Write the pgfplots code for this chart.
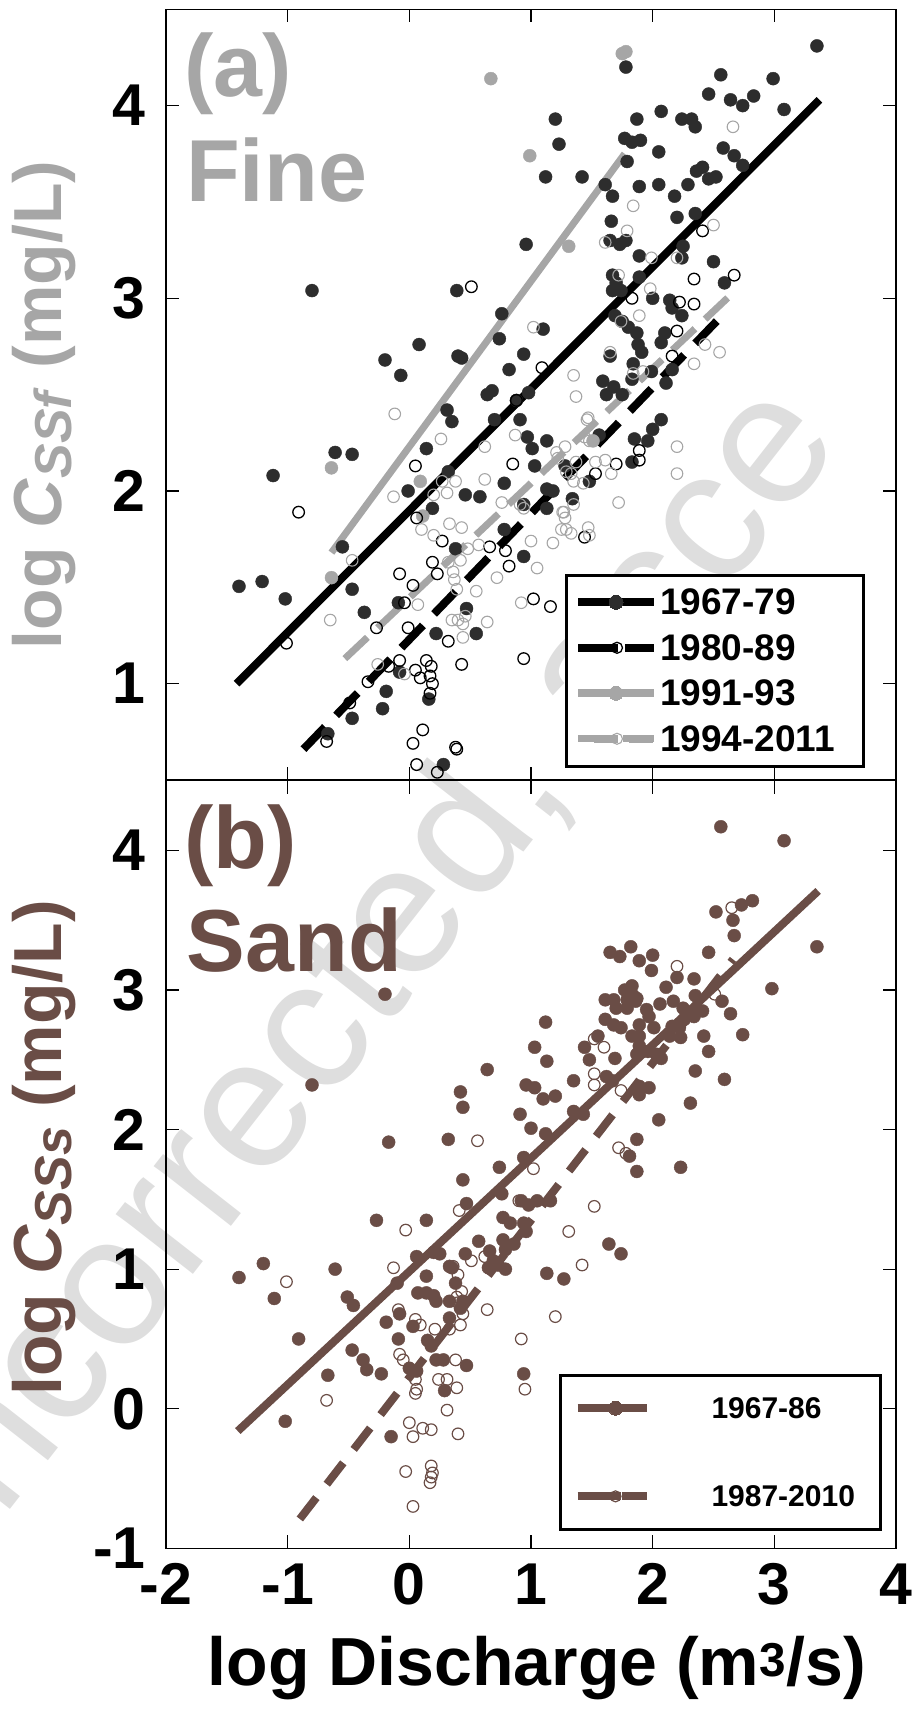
\documentclass[border=0pt]{standalone}
\usepackage{fontspec}
\setmainfont{Liberation Sans}
\usepackage{pgfplots}
\pgfplotsset{compat=1.18}
\definecolor{dk}{RGB}{45,45,45}
\definecolor{gr}{RGB}{166,166,166}
\definecolor{br}{RGB}{106,77,70}
\definecolor{wm}{RGB}{222,222,222}
\newcommand\fs[1]{\fontsize{#1}{#1}\selectfont}
\newcommand\lt[3]{\makebox[#1][l]{\rule{0pt}{#2}#3}}
\newcommand\sub[1]{\raisebox{-10pt}{\fs{52}\textit{#1}}}
\pgfplotsset{
  base/.style={scale only axis, width=730pt, xmin=-2, xmax=4,
    axis line style={line width=1.2pt}, tick style={line width=1.2pt, black},
    major tick length=13pt, tick align=inside,
    xtick={-2,...,4},
    ticklabel style={font=\fs{59}\bfseries, inner sep=0pt},
    yticklabel style={anchor=east, xshift=-20pt},
    xticklabel style={anchor=north, yshift=-15pt},
    legend cell align=left},
  fill dk/.style={only marks, mark=*, mark size=6.5pt, color=dk, forget plot},
  fill gr/.style={only marks, mark=*, mark size=6.5pt, color=gr, forget plot},
  hol bk/.style={only marks, mark=o, mark size=5.8pt, mark options={line width=1.3pt}, color=black, forget plot},
  hol gr/.style={only marks, mark=o, mark size=5.8pt, mark options={line width=1.1pt}, color=gr, forget plot},
  fill br/.style={only marks, mark=*, mark size=6.5pt, color=br, forget plot},
  hol br/.style={only marks, mark=o, mark size=5.8pt, mark options={line width=1.2pt}, color=br, forget plot},
}
\begin{document}
\begin{tikzpicture}
\useasboundingbox (0pt,0pt) rectangle (914pt,1711pt);
\node[overlay, rotate=52, anchor=base west, text=wm, inner sep=0pt, font=\fs{185}] at (-80pt,86pt) {Uncorrected, acce};

% ---------------- panel (a) ----------------
\begin{axis}[base, at={(166pt,931pt)}, anchor=south west, height=770.7pt,
  ymin=0.5, ymax=4.5, ytick={1,2,3,4}, yticklabels={1,2,3,4}, xticklabels={},
  ylabel={log \textit{C}\sub{SSf} (mg/L)},
  ylabel style={at={(axis description cs:-0.1425,0.4866)}, anchor=base, font=\fs{68}\bfseries, text=gr, inner sep=0pt},
  legend style={at={(0.5459,0.2679)}, anchor=north west, draw=black, line width=3pt, fill=white,
    inner xsep=8pt, inner ysep=13.25pt, row sep=17.5pt, font=\fs{37}\bfseries, nodes={inner sep=0pt},
    /tikz/every odd column/.append style={column sep=2pt}},
]
\addplot[black, line width=8pt, line cap=butt,
  legend image code/.code={\draw[solid, black, line width=8pt] (0pt,0pt) -- (76pt,0pt);
    \draw[solid, line width=0pt, mark=*, mark size=7pt, mark options={fill=dk, draw=dk}] plot coordinates {(38pt,0pt)};}]
  coordinates {(-1.42,1.00) (3.37,4.03)};
\addlegendentry{\lt{195pt}{26.5pt}{1967-79}}
\addplot[black, line width=8pt, line cap=butt, dash pattern=on 31pt off 16pt,
  legend image code/.code={\draw[solid, black, line width=8pt] (16pt,0pt) -- (40pt,0pt);
    \draw[solid, black, line width=8pt] (51pt,0pt) -- (75pt,0pt); \path (0pt,0pt) -- (76pt,0pt);
    \draw[solid, line width=0pt, mark=o, mark size=5.5pt, mark options={fill=white, draw=black, line width=1.3pt}] plot coordinates {(39pt,0pt)};}]
  coordinates {(-0.87,0.66) (2.57,2.91)};
\addlegendentry{\lt{195pt}{26.5pt}{1980-89}}
\addplot[gr, line width=7pt, line cap=butt,
  legend image code/.code={\draw[solid, gr, line width=8pt] (0pt,0pt) -- (76pt,0pt);
    \draw[solid, line width=0pt, mark=*, mark size=7pt, mark options={fill=gr, draw=gr}] plot coordinates {(38pt,0pt)};}]
  coordinates {(-0.64,1.68) (1.77,3.75)};
\addlegendentry{\lt{195pt}{26.5pt}{1991-93}}
\addplot[gr, line width=7pt, line cap=butt, dash pattern=on 31pt off 14pt,
  legend image code/.code={\draw[solid, gr, line width=8pt] (16pt,0pt) -- (40pt,0pt);
    \draw[solid, gr, line width=8pt] (51pt,0pt) -- (75pt,0pt); \path (0pt,0pt) -- (76pt,0pt);
    \draw[solid, line width=0pt, mark=o, mark size=5.5pt, mark options={fill=white, draw=gr, line width=1.1pt}] plot coordinates {(39pt,0pt)};}]
  coordinates {(-0.53,1.13) (2.68,3.04)};
\addlegendentry{\lt{195pt}{26.5pt}{1994-2011}}

% 1967-79 filled dark
\addplot[fill dk] coordinates {
(-1.40,1.505) (-1.21,1.53) (-1.02,1.44) (-1.12,2.08) (-0.80,3.04) (-0.61,2.20) (-0.47,2.19) (-0.55,1.71)
(-0.47,1.49) (-0.37,1.37) (-0.09,1.42) (-0.08,1.06) (-0.19,0.96) (-0.22,0.87) (-0.47,0.82) (-0.67,0.74)
(0.16,0.92) (0.28,0.58) (0.14,2.22) (0.31,2.42) (0.35,2.36) (0.64,2.50) (0.68,2.52) (0.70,2.37)
(0.88,2.47) (0.91,2.37) (0.98,2.51) (-0.01,2.00) (0.19,1.91) (0.46,1.98) (0.58,1.97) (0.78,2.04)
(0.97,2.28) (1.01,2.22) (1.13,2.26) (1.03,2.13) (0.78,1.80) (0.94,1.66) (0.38,1.70) (0.22,1.26)
(0.47,1.39) (0.55,1.26) (0.94,1.93) (1.13,2.01) (1.13,1.91) (1.18,2.00) (1.28,2.13) (1.34,1.96)
(1.48,2.05) (1.56,2.29) (0.32,2.10)
(0.76,2.92) (1.10,2.84) (0.74,2.79) (0.08,2.76) (-0.20,2.68) (-0.07,2.60) (0.40,2.70) (0.43,2.69)
(0.94,2.71) (0.82,2.63) (1.69,2.91) (1.80,2.85) (1.87,2.82) (1.65,2.70) (1.84,2.66) (1.59,2.57)
(1.68,2.54) (1.75,2.50) (1.62,2.50)
(3.35,4.31) (2.99,4.14) (2.56,4.16) (2.46,4.06) (2.64,4.03) (2.74,4.00) (2.83,4.05) (3.08,3.98)
(1.78,4.20) (1.87,3.93) (2.07,3.97) (2.24,3.93) (2.32,3.93) (2.35,3.89) (1.20,3.93) (1.23,3.80)
(1.77,3.83) (1.83,3.81) (1.90,3.82) (2.05,3.76) (1.79,3.71) (2.58,3.78) (2.67,3.74) (2.74,3.69)
(1.12,3.63) (1.42,3.63) (1.61,3.59) (1.67,3.53) (1.89,3.58) (2.05,3.59) (2.18,3.53) (2.29,3.59)
(2.36,3.66) (2.41,3.68) (2.46,3.62) (2.52,3.63) (1.66,3.40) (1.73,3.28) (1.78,3.30) (1.65,3.30)
(1.89,3.22) (2.20,3.42) (2.35,3.44) (2.25,3.27) (2.24,3.21) (2.50,3.19) (2.59,3.08) (0.96,3.28)
(0.39,3.04) (1.67,3.12) (1.70,3.08) (1.67,3.04) (1.74,3.04) (1.89,3.11) (2.00,3.00) (2.14,2.99)
(2.16,2.95) (2.24,2.91) (1.75,2.88) (1.88,2.76) (1.91,2.72) (2.10,2.82) (2.07,2.77) (1.83,2.58)
(1.99,2.62) (2.16,2.63) (2.11,2.56) (2.07,2.37) (2.00,2.32) (1.96,2.26) (1.85,2.27) (1.83,2.15)
};
% 1991-93 filled gray
\addplot[fill gr] coordinates {
(1.75,4.27) (1.78,4.28) (0.67,4.14) (0.99,3.74) (1.31,3.27) (-0.64,2.12) (-0.64,1.55) (0.09,2.05)
(0.11,1.87) (1.51,2.26)
};
% 1980-89 hollow black
\addplot[hol bk] coordinates {
(0.51,3.06) (2.41,3.35) (2.34,3.10) (2.67,3.12) (2.22,2.98) (2.34,2.97) (2.20,2.83) (1.83,3.00)
(2.16,2.70) (1.09,2.64) (0.88,2.47) (-0.91,1.89) (0.05,2.13) (0.85,2.14) (0.06,1.86) (0.27,1.74)
(0.19,1.63) (0.23,1.57) (-0.08,1.57) (0.03,1.51) (-0.04,1.42) (-0.27,1.29) (-0.01,1.29) (0.32,1.22)
(0.66,1.71) (0.79,1.69) (0.82,1.61) (1.02,1.44) (1.16,1.40) (0.94,1.13) (0.43,1.10) (-0.08,1.12)
(-0.17,1.09) (-0.34,1.01) (-0.49,0.90) (-0.68,0.70) (0.05,1.07) (0.09,1.03) (0.14,1.12) (0.18,1.09)
(0.17,1.04) (0.19,1.00) (0.17,0.95) (0.11,0.76) (0.03,0.69) (0.38,0.67) (0.39,0.66) (0.06,0.58)
(0.23,0.54) (-1.01,1.21) (1.44,1.76) (1.53,2.09) (1.70,2.14) (1.89,2.21) (1.89,2.16)
};
% 1994-2011 hollow gray
\addplot[hol gr] coordinates {
(2.66,3.89) (1.84,3.48) (1.79,3.35) (1.61,3.29) (2.50,3.38) (1.99,3.21) (2.20,3.21) (1.72,3.12)
(1.98,3.05) (1.89,2.91) (1.74,2.88) (1.02,2.85) (1.65,2.72) (2.43,2.76) (2.55,2.72) (2.34,2.66)
(1.92,2.62) (1.84,2.61) (1.35,2.60) (1.37,2.49) (1.47,2.38) (-0.12,2.40) (0.26,2.27) (0.62,2.23)
(0.87,2.29) (1.37,2.15) (1.33,2.09) (1.35,2.05) (1.21,2.20) (1.28,2.23) (1.44,2.28) (1.61,2.16)
(1.66,2.09) (0.62,2.06) (-0.13,1.97) (0.27,2.05) (0.38,2.05) (0.31,1.99) (0.20,1.98) (0.76,1.94)
(0.91,1.93) (0.94,1.91) (1.27,1.89) (1.28,1.86) (1.29,1.80) (1.25,1.80) (1.33,1.78) (1.47,1.81)
(1.48,1.77) (1.72,1.94) (0.10,1.80) (0.20,1.77) (0.33,1.83) (0.43,1.81) (0.48,1.70) (0.57,1.72)
(1.00,1.74) (1.18,1.73) (1.53,2.15) (-0.47,1.64) (-0.65,1.33) (1.05,1.60) (0.72,1.55) (0.55,1.48)
(0.64,1.32) (0.92,1.42) (0.32,1.63) (0.42,1.64) (0.36,1.58) (0.37,1.54) (0.39,1.49) (0.35,1.33)
(0.40,1.33) (0.44,1.31) (0.46,1.35) (0.44,1.24) (0.07,1.41) (-0.26,1.10) (-0.04,1.05) (1.22,2.17)
(1.29,2.10) (1.43,2.04) (1.26,1.89) (1.35,1.93) (1.46,2.37) (1.48,2.26) (2.20,2.23) (2.20,2.09)
};
\end{axis}

% ---------------- panel (b) ----------------
\begin{axis}[base, at={(166pt,162.7pt)}, anchor=south west, height=767.6pt,
  ymin=-1, ymax=4.5, ytick={-1,0,1,2,3,4}, yticklabels={-1,0,1,2,3,4},
  xticklabels={-2,-1,0,1,2,3,4},
  xlabel={log Discharge (m\textsuperscript{3}/s)},
  xlabel style={at={(axis description cs:0.508,-0.1785)}, anchor=base, font=\fs{68}\bfseries, inner sep=0pt},
  ylabel={log \textit{C}\sub{SSs} (mg/L)},
  ylabel style={at={(axis description cs:-0.1425,0.5215)}, anchor=base, font=\fs{68}\bfseries, text=br, inner sep=0pt},
  legend style={at={(0.5377,0.2277)}, anchor=north west, draw=black, line width=3pt, fill=white,
    inner xsep=13.5pt, inner ysep=21.5pt, row sep=64.6pt, font=\fs{30}\bfseries, nodes={inner sep=0pt},
    /tikz/every odd column/.append style={column sep=61pt}},
]
\addplot[br, line width=8pt, line cap=butt,
  legend image code/.code={\draw[solid, br, line width=8pt] (0pt,0pt) -- (69pt,0pt);
    \draw[solid, line width=0pt, mark=*, mark size=7pt, mark options={fill=br, draw=br}] plot coordinates {(38pt,0pt)};}]
  coordinates {(-1.41,-0.16) (3.36,3.71)};
\addlegendentry{\lt{155pt}{22pt}{1967-86}}
\addplot[br, line width=8pt, line cap=butt, dash pattern=on 27pt off 17pt,
  legend image code/.code={\draw[solid, br, line width=8pt] (16pt,0pt) -- (43pt,0pt);
    \draw[solid, br, line width=8pt] (51pt,0pt) -- (69pt,0pt); \path (0pt,0pt) -- (69pt,0pt);
    \draw[solid, line width=0pt, mark=o, mark size=5.5pt, mark options={fill=white, draw=br, line width=1.2pt}] plot coordinates {(38pt,0pt)};}]
  coordinates {(-0.90,-0.79) (2.66,3.22)};
\addlegendentry{\lt{155pt}{22pt}{1987-2010}}

% 1967-86 filled brown
\addplot[fill br] coordinates {
(2.56,4.17) (3.08,4.07) (2.52,3.56) (2.73,3.61) (2.82,3.64) (2.66,3.50) (2.67,3.39) (3.35,3.31)
(2.46,3.27) (2.98,3.01) (1.65,3.27) (1.73,3.24) (1.82,3.31) (1.89,3.21) (2.00,3.25) (1.99,3.14)
(2.20,3.09) (2.34,3.08) (2.11,3.02) (1.83,3.03) (1.77,3.00) (1.84,2.96) (1.79,2.93) (1.87,2.94)
(1.61,2.93) (1.68,2.93) (1.70,2.87) (1.79,2.87) (1.86,2.92) (2.06,2.90) (2.17,2.92) (2.25,2.87)
(2.35,2.96) (2.36,2.87) (2.41,2.85) (2.57,2.92) (2.64,2.83) (2.74,2.68) (2.34,2.81) (2.26,2.79)
(2.22,2.73) (2.16,2.74) (1.97,2.81) (1.95,2.86) (1.61,2.79) (1.68,2.75) (1.74,2.73) (1.89,2.75)
(1.83,2.67) (1.89,2.67) (2.01,2.73) (2.14,2.67) (2.23,2.66) (2.42,2.67) (2.46,2.56) (1.12,2.77)
(1.55,2.67) (1.03,2.59) (1.44,2.59) (1.89,2.60) (1.96,2.56) (2.03,2.54) (1.48,2.50) (1.69,2.51)
(1.13,2.49) (1.87,2.54) (2.07,2.51) (2.35,2.42) (2.59,2.36) (0.64,2.43) (1.35,2.35) (0.96,2.32)
(1.03,2.30) (1.62,2.38) (1.67,2.35) (1.89,2.31) (1.97,2.30) (0.42,2.27) (0.44,2.16) (1.10,2.22)
(1.20,2.24) (1.89,2.25) (2.31,2.19) (0.91,2.11) (1.35,2.13) (1.43,2.11) (1.00,2.01) (2.05,2.07)
(0.32,1.93) (1.12,1.97) (1.87,1.93) (0.94,1.80) (0.74,1.73) (1.81,1.81) (1.87,1.70) (2.23,1.73)
(0.44,1.64) (0.47,1.47) (0.76,1.54) (0.92,1.49) (0.98,1.46) (1.05,1.49) (1.16,1.49) (-0.20,2.97)
(-0.80,2.32) (-0.17,1.91)
(-0.27,1.35) (0.14,1.35) (0.77,1.37) (0.83,1.33) (0.94,1.33) (0.96,1.27) (0.77,1.21) (0.86,1.18)
(0.79,1.14) (0.57,1.20) (0.46,1.11) (0.66,1.13) (0.69,1.06) (0.65,1.01) (0.73,1.03) (0.79,1.00)
(1.13,0.97) (1.27,0.93) (1.64,1.18) (1.74,1.11) (0.06,1.09) (0.20,1.12) (0.25,1.11) (-0.10,0.90)
(0.14,0.95) (0.07,0.83) (0.14,0.83) (0.20,0.81) (0.22,0.77) (0.33,1.02) (0.35,1.01) (0.38,0.90)
(0.33,0.65) (0.33,0.77) (0.44,0.77) (0.42,0.72) (-0.51,0.80) (-0.46,0.74) (-0.61,1.00) (-1.20,1.04)
(-1.40,0.94) (-1.11,0.79) (-0.91,0.50) (-0.19,0.62) (-0.08,0.68) (0.03,0.59) (-0.09,0.50) (0.15,0.49)
(0.18,0.45) (-0.47,0.42) (-0.38,0.35) (-0.35,0.28) (-0.23,0.25) (-0.67,0.24) (0.22,0.35) (0.28,0.35)
(0.00,0.29) (0.06,0.27) (0.47,0.31) (0.29,0.13) (-1.02,-0.09) (-0.15,-0.20) (0.94,0.25)
};
% 1987-2010 hollow brown
\addplot[hol br] coordinates {
(2.65,3.59) (2.20,3.17) (2.51,2.97) (1.52,2.65) (1.60,2.59) (1.52,2.40) (1.52,2.32) (1.74,2.28)
(0.56,1.92) (1.72,1.87) (1.78,1.83) (1.02,1.72) (1.52,1.45) (0.90,1.49) (1.31,1.27) (1.42,1.03)
(1.20,0.66) (0.92,0.50) (0.95,0.14) (0.64,0.71) (0.41,1.42) (0.51,1.06) (0.62,1.09) (-0.03,1.28)
(-0.13,1.01) (0.36,1.02) (0.40,0.96) (0.39,0.80) (0.40,0.76) (0.43,0.84) (0.44,0.68) (0.42,0.60)
(0.33,0.57) (0.21,0.57) (0.05,0.64) (0.09,0.60) (-0.09,0.71) (-0.08,0.39) (-0.05,0.35) (0.05,0.21)
(0.06,0.14) (0.05,0.11) (0.24,0.21) (0.31,0.21) (0.39,0.15) (0.38,0.35) (0.31,-0.01) (0.00,-0.10)
(0.03,-0.20) (0.11,-0.14) (0.18,-0.15) (0.40,-0.18) (-0.03,-0.45) (0.18,-0.41) (0.19,-0.46) (0.18,-0.49)
(0.17,-0.53) (0.03,-0.70) (-0.68,0.06) (-1.01,0.91)
};
\end{axis}

\node[anchor=base west, inner sep=0pt, text=gr, font=\fs{88}\bfseries] at (184pt,1614pt) {(a)};
\node[anchor=base west, inner sep=0pt, text=gr, font=\fs{88}\bfseries] at (186pt,1509pt) {Fine};
\node[anchor=base west, inner sep=0pt, text=br, font=\fs{88}\bfseries] at (184pt,842pt) {(b)};
\node[anchor=base west, inner sep=0pt, text=br, font=\fs{88}\bfseries] at (186.5pt,739pt) {Sand};
\end{tikzpicture}
\end{document}
